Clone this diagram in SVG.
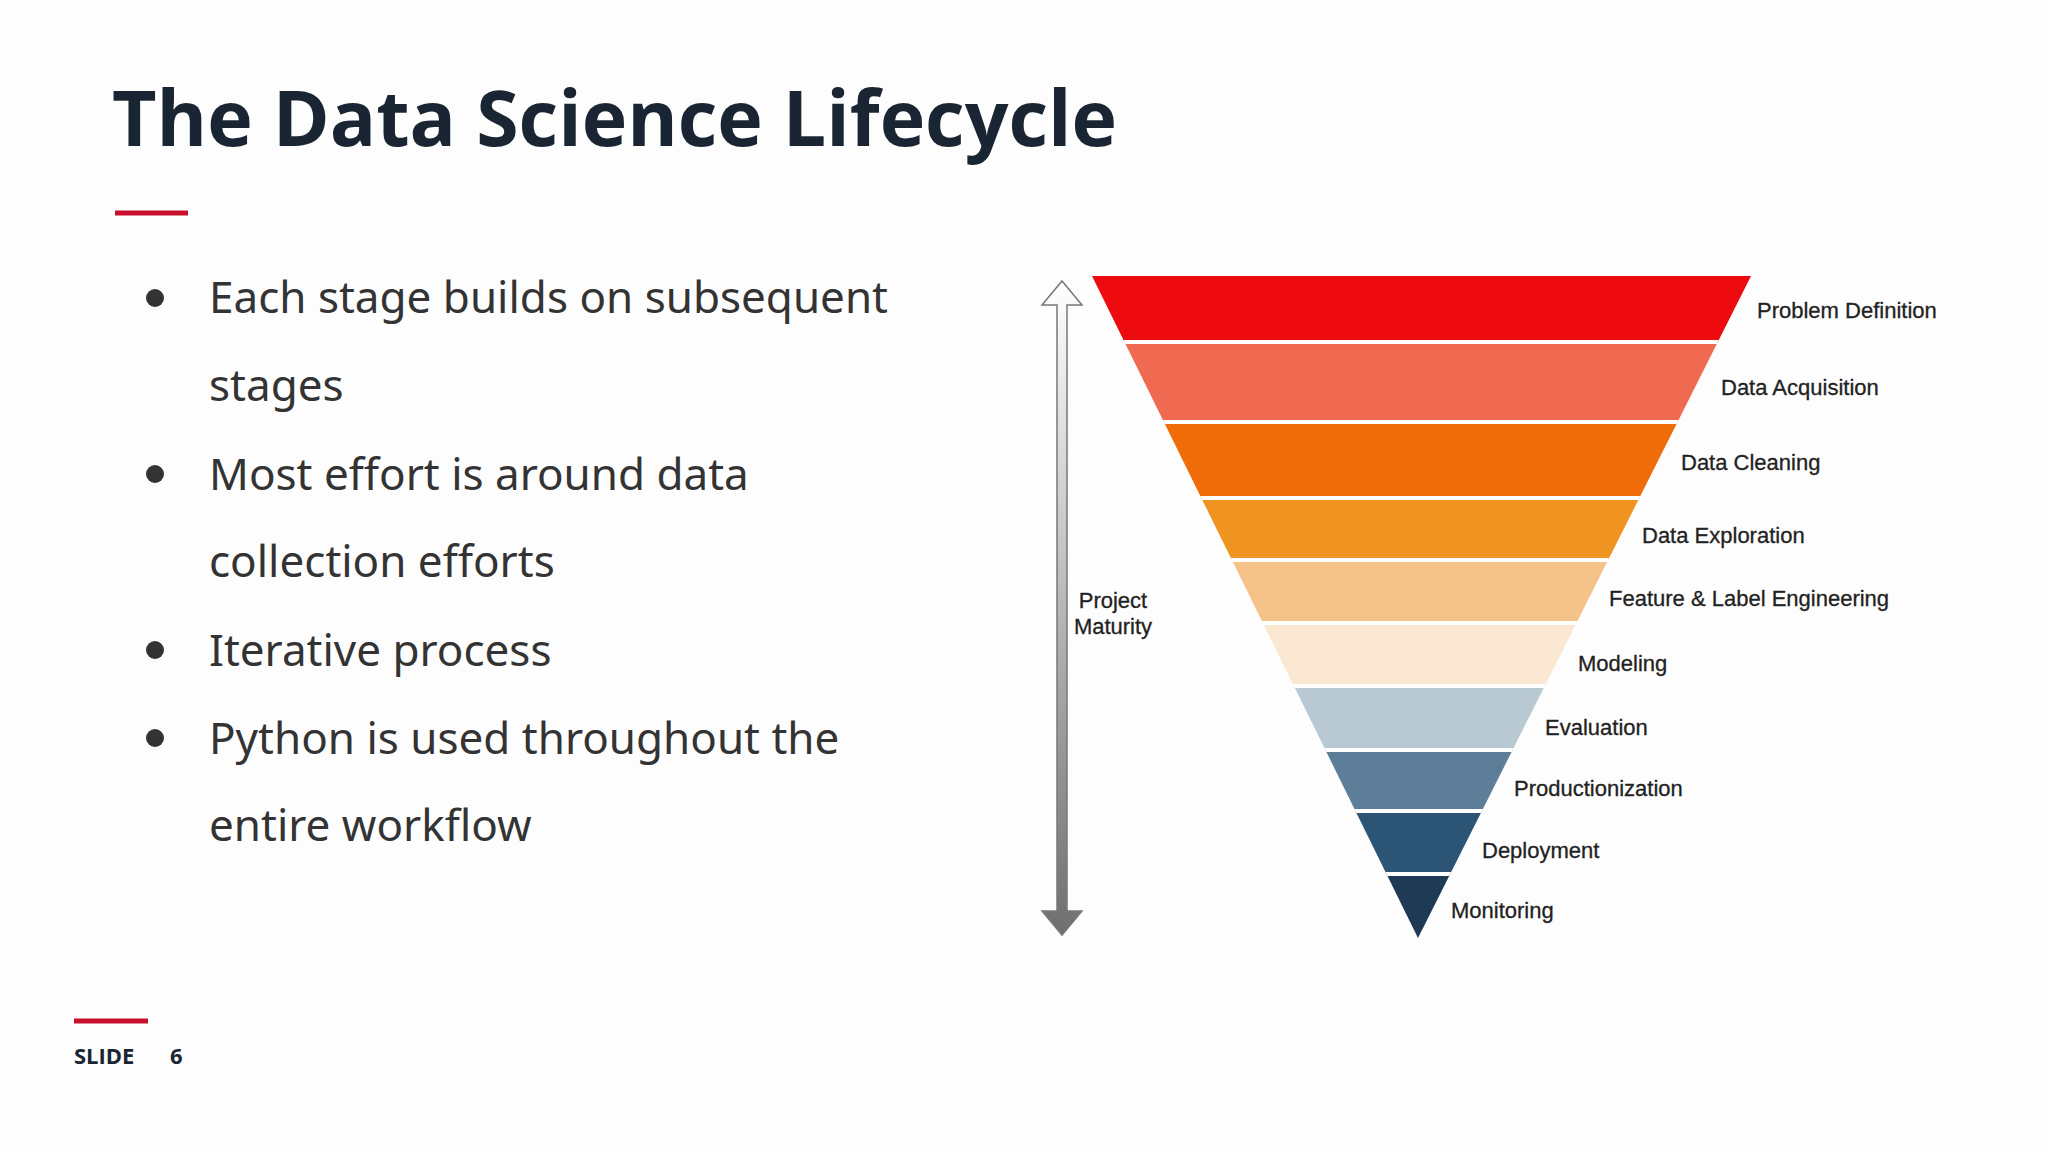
<svg xmlns="http://www.w3.org/2000/svg" width="2048" height="1152" viewBox="0 0 2048 1152">
<defs>
<style>
.b{font-family:"Noto Sans","Open Sans",sans-serif;font-size:44px;fill:#333}
.l{font-family:"Liberation Sans",Arial,sans-serif;font-size:22px;fill:#222;stroke:#222;stroke-width:0.3px}
</style>
<clipPath id="tri"><polygon points="1092,276 1751,276 1418,938"/></clipPath>
<linearGradient id="ag" x1="0" y1="0" x2="0" y2="1"><stop offset="0" stop-color="#ffffff"/><stop offset="1" stop-color="#6f6f6f"/></linearGradient>
</defs>
<rect width="2048" height="1152" fill="#fdfdfd"/>
<text x="112" y="146" font-family="'Open Sans','Noto Sans',sans-serif" font-weight="bold" font-size="77" fill="#1a2533">The Data Science Lifecycle</text>
<line x1="115" y1="213" x2="188" y2="213" stroke="#c8102e" stroke-width="5"/>
<g id="bullets">
<circle cx="155" cy="298" r="9" fill="#333"/><circle cx="155" cy="474" r="9" fill="#333"/><circle cx="155" cy="650" r="9" fill="#333"/><circle cx="155" cy="738" r="9" fill="#333"/>
<text class="b" x="209" y="313">Each stage builds on subsequent</text>
<text class="b" x="209" y="401">stages</text>
<text class="b" x="209" y="490">Most effort is around data</text>
<text class="b" x="209" y="577">collection efforts</text>
<text class="b" x="209" y="666">Iterative process</text>
<text class="b" x="209" y="754">Python is used throughout the</text>
<text class="b" x="209" y="841">entire workflow</text>
</g>
<line x1="74" y1="1021" x2="148" y2="1021" stroke="#c8102e" stroke-width="5"/>
<text x="74" y="1064" font-family="'Open Sans',sans-serif" font-weight="bold" font-size="22" fill="#1a2533">SLIDE</text>
<text x="170" y="1064" font-family="'Open Sans',sans-serif" font-weight="bold" font-size="22" fill="#1a2533">6</text>
<g id="funnel" clip-path="url(#tri)">
<rect x="1080" y="276" width="700" height="66" fill="#ee0b10"/>
<rect x="1080" y="342" width="700" height="80" fill="#ef6a50"/>
<rect x="1080" y="422" width="700" height="76" fill="#ef6c09"/>
<rect x="1080" y="498" width="700" height="62" fill="#f09421"/>
<rect x="1080" y="560" width="700" height="63" fill="#f5c38a"/>
<rect x="1080" y="623" width="700" height="63" fill="#fae8d3"/>
<rect x="1080" y="686" width="700" height="64" fill="#b9c9d3"/>
<rect x="1080" y="750" width="700" height="61" fill="#5e7d98"/>
<rect x="1080" y="811" width="700" height="63" fill="#2c5575"/>
<rect x="1080" y="874" width="700" height="64" fill="#1e3a55"/>
<g stroke="#fff" stroke-width="4">
<line x1="1080" y1="342" x2="1780" y2="342"/><line x1="1080" y1="422" x2="1780" y2="422"/><line x1="1080" y1="498" x2="1780" y2="498"/><line x1="1080" y1="560" x2="1780" y2="560"/><line x1="1080" y1="623" x2="1780" y2="623"/><line x1="1080" y1="686" x2="1780" y2="686"/><line x1="1080" y1="750" x2="1780" y2="750"/><line x1="1080" y1="811" x2="1780" y2="811"/><line x1="1080" y1="874" x2="1780" y2="874"/>
</g>
</g>
<g id="labels">
<text class="l" x="1757" y="318">Problem Definition</text>
<text class="l" x="1721" y="395">Data Acquisition</text>
<text class="l" x="1681" y="470">Data Cleaning</text>
<text class="l" x="1642" y="543">Data Exploration</text>
<text class="l" x="1609" y="606">Feature &amp; Label Engineering</text>
<text class="l" x="1578" y="671">Modeling</text>
<text class="l" x="1545" y="735">Evaluation</text>
<text class="l" x="1514" y="796">Productionization</text>
<text class="l" x="1482" y="858">Deployment</text>
<text class="l" x="1451" y="918">Monitoring</text>
</g>
<g id="connectors">
<polygon points="1062,281 1082,305 1067,305 1067,911 1082,911 1062,935 1042,911 1057,911 1057,305 1042,305" fill="url(#ag)" stroke="#777" stroke-width="1.5"/>
</g>
<g id="maturity">
<text class="l" x="1113" y="608" text-anchor="middle">Project</text>
<text class="l" x="1113" y="634" text-anchor="middle">Maturity</text>
</g>
</svg>
